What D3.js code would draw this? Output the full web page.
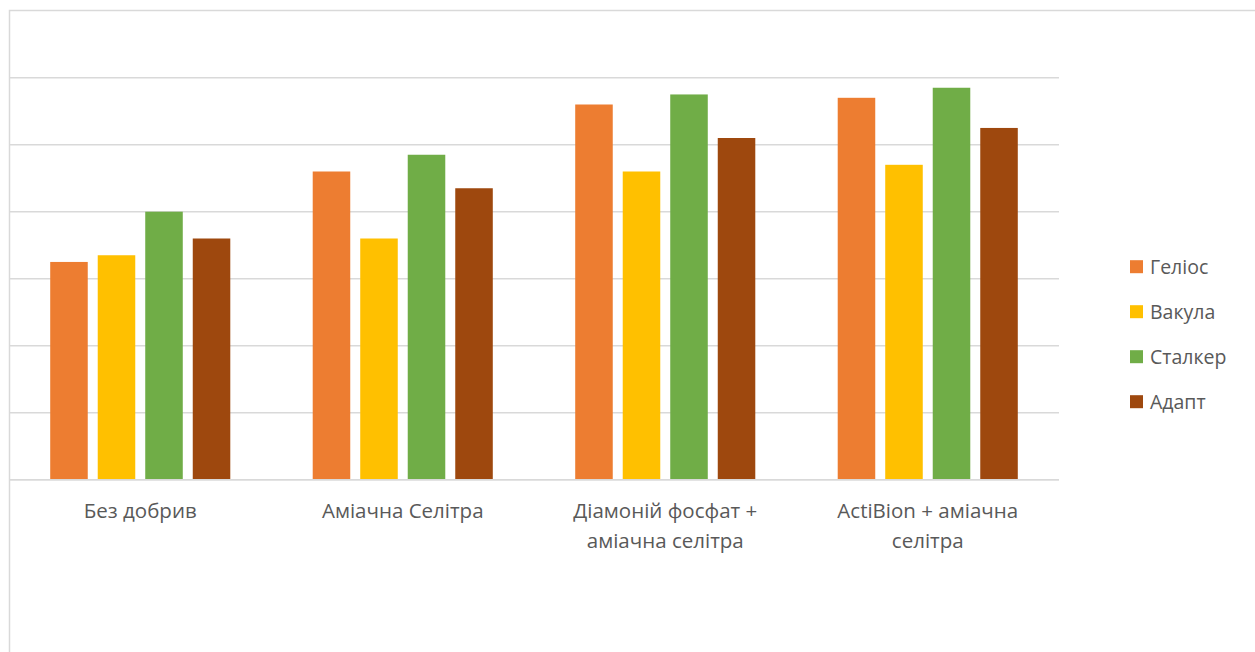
<!DOCTYPE html>
<html>
<head>
<meta charset="utf-8">
<script src="https://cdn.jsdelivr.net/npm/d3@7"></script>
<style>
  body { margin: 0; background: #fff; }
  #figure { width: 1255px; height: 652px; }
  text { font-family: "Open Sans", "Noto Sans", sans-serif; fill: #595959; }
</style>
</head>
<body>
<div id="figure"></div>
<script>
const categories = ["Без добрив", "Аміачна Селітра", "Діамоній фосфат +\nаміачна селітра", "ActiBion + аміачна\nселітра"];
const series = ["Геліос", "Вакула", "Сталкер", "Адапт"];
const heliosValues = [3.25, 4.6, 5.6, 5.7];
const vakulaValues = [3.35, 3.6, 4.6, 4.7];
const stalkerValues = [4.0, 4.85, 5.75, 5.85];
const adaptValues = [3.6, 4.35, 5.1, 5.25];
const yTicks = [0, 1, 2, 3, 4, 5, 6];
const colors = ["#ED7D31", "#FFC000", "#70AD47", "#9E480E"];

document.addEventListener("DOMContentLoaded", () => {
  const width = 1255, height = 652;
  const plot = { left: 9, right: 1059, top: 10.7, bottom: 479.7 };
  const values = [heliosValues, vakulaValues, stalkerValues, adaptValues];

  const svg = d3.select("#figure").append("svg")
                .attr("width", width)
                .attr("height", height);

  // chart border (runs off the right and bottom edge)
  svg.append("rect")
     .attr("x", 9.5).attr("y", 10.5)
     .attr("width", 1300).attr("height", 700)
     .attr("fill", "none")
     .attr("stroke", "#d9d9d9")
     .attr("stroke-width", 1.5);

  const x_scale = d3.scaleBand()
                    .domain(categories)
                    .range([plot.left, plot.right])
                    .padding(0);

  const y_scale = d3.scaleLinear()
                    .domain([0, 7])
                    .range([plot.bottom, plot.top]);

  const groupWidth = x_scale.bandwidth() * 0.686;
  const inner = d3.scaleBand()
                  .domain(series)
                  .range([0, groupWidth])
                  .paddingInner(0.21)
                  .paddingOuter(0);

  // gridlines
  svg.append("g")
     .selectAll("line")
     .data(yTicks)
     .join("line")
     .attr("x1", plot.left).attr("x2", plot.right)
     .attr("y1", d => y_scale(d)).attr("y2", d => y_scale(d))
     .attr("stroke", "#d9d9d9")
     .attr("stroke-width", 1.5);

  // bars
  const groups = svg.append("g")
     .selectAll("g")
     .data(categories)
     .join("g")
     .attr("transform", c => "translate(" + (x_scale(c) + (x_scale.bandwidth() - groupWidth) / 2) + ",0)");

  groups.selectAll("rect")
        .data((c, ci) => series.map((s, si) => ({ s: s, si: si, v: values[si][ci] })))
        .join("rect")
        .attr("x", d => inner(d.s))
        .attr("width", inner.bandwidth())
        .attr("y", d => y_scale(d.v))
        .attr("height", d => y_scale(0) - y_scale(d.v))
        .attr("fill", d => colors[d.si]);

  // baseline over the bars
  svg.append("line")
     .attr("x1", plot.left).attr("x2", plot.right)
     .attr("y1", y_scale(0)).attr("y2", y_scale(0))
     .attr("stroke", "#d9d9d9")
     .attr("stroke-width", 1.5);

  // category labels
  svg.append("g")
     .selectAll("text")
     .data(categories)
     .join("text")
     .attr("text-anchor", "middle")
     .attr("font-size", 20.5)
     .each(function(c) {
       const lines = c.split("\n");
       d3.select(this).selectAll("tspan")
         .data(lines)
         .join("tspan")
         .attr("x", x_scale(c) + x_scale.bandwidth() / 2)
         .attr("y", (d, i) => 518 + i * 30)
         .text(d => d);
     });

  // legend
  const legend = svg.append("g")
     .selectAll("g")
     .data(series)
     .join("g")
     .attr("transform", (d, i) => "translate(1130," + (266.7 + i * 45) + ")");

  legend.append("rect")
        .attr("x", 0).attr("y", -6.5)
        .attr("width", 13).attr("height", 13)
        .attr("fill", (d, i) => colors[i]);

  legend.append("text")
        .attr("x", 20).attr("y", 0)
        .attr("dy", "0.35em")
        .attr("font-size", 19.5)
        .text(d => d);
});
</script>
</body>
</html>
